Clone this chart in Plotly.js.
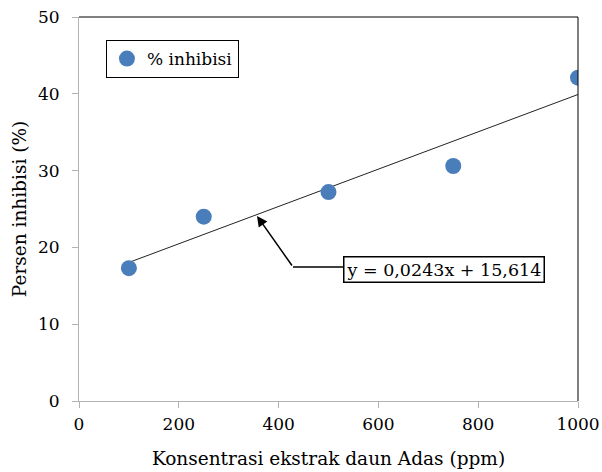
<!DOCTYPE html>
<html>
<head>
<meta charset="utf-8">
<script src="https://cdn.plot.ly/plotly-3.0.1.min.js"></script>
<style>html,body{margin:0;padding:0;background:#fff;}#chart{width:602px;height:472px;}</style>
</head>
<body>
<div id="chart"></div>
<script>
const concentration = [100, 250, 500, 750, 1000];
const inhibition = [17.3, 24.0, 27.2, 30.6, 42.1];
const trendX = [100, 1000];
const trendY = [18.04, 39.91];
const xTicks = [0, 200, 400, 600, 800, 1000];
const yTicks = [0, 10, 20, 30, 40, 50];
const equationText = 'y = 0,0243x + 15,614';
const seriesName = '% inhibisi';

const FONT = 'DejaVu Serif, serif';
const GRAY = '#b3b3b3';

const data = [
  {
    x: trendX, y: trendY, type: 'scatter', mode: 'lines',
    line: {color: '#222', width: 1}, showlegend: false, hoverinfo: 'skip'
  },
  {
    x: concentration, y: inhibition, type: 'scatter', mode: 'markers',
    name: seriesName,
    marker: {color: '#4a7ebb', size: 16}
  }
];

const layout = {
  width: 602, height: 472,
  margin: {l: 79, r: 24, t: 17, b: 71},
  paper_bgcolor: '#fff', plot_bgcolor: '#fff',
  font: {family: FONT, size: 17, color: '#000'},
  showlegend: true,
  legend: {
    x: 0.054, y: 0.94, xanchor: 'left', yanchor: 'top',
    bordercolor: '#000', borderwidth: 1, bgcolor: '#fff',
    font: {family: FONT, size: 17, color: '#000'},
    itemwidth: 30
  },
  xaxis: {
    range: [0, 1000], tickvals: xTicks, ticktext: xTicks.map(String),
    showgrid: false, zeroline: false,
    showline: true, linecolor: GRAY, linewidth: 1,
    ticks: 'outside', ticklen: 6, tickcolor: GRAY,
    ticklabelstandoff: 2,
    tickfont: {family: FONT, size: 17, color: '#000'},
    title: {text: 'Konsentrasi ekstrak daun Adas (ppm)', font: {family: FONT, size: 18.5, color: '#000'}, standoff: 18}
  },
  yaxis: {
    range: [0, 50], tickvals: yTicks, ticktext: yTicks.map(String),
    showgrid: false, zeroline: false,
    showline: true, linecolor: GRAY, linewidth: 1,
    ticks: 'outside', ticklen: 6, tickcolor: GRAY,
    ticklabelstandoff: 9,
    tickfont: {family: FONT, size: 17, color: '#000'},
    title: {text: 'Persen inhibisi (%)', font: {family: FONT, size: 18.5, color: '#000'}, standoff: 6}
  },
  shapes: [
    {type: 'line', xref: 'paper', yref: 'paper', x0: 0, x1: 1, y0: 1, y1: 1, line: {color: '#000', width: 1}},
    {type: 'line', xref: 'paper', yref: 'paper', x0: 1, x1: 1, y0: 0, y1: 1, line: {color: '#000', width: 1}},
    {type: 'line', xref: 'x', yref: 'y', x0: 428.9, x1: 529, y0: 17.45, y1: 17.45, line: {color: '#000', width: 1.5}}
  ],
  annotations: [
    {
      x: 356.7, y: 24.1, xref: 'x', yref: 'y', text: '',
      showarrow: true, axref: 'x', ayref: 'y', ax: 428.9, ay: 17.45,
      arrowhead: 2, arrowsize: 1.4, arrowwidth: 1.5, arrowcolor: '#000'
    },
    {
      x: 529, y: 17.1, xref: 'x', yref: 'y', xanchor: 'left', yanchor: 'middle',
      text: equationText, showarrow: false,
      font: {family: FONT, size: 17.5, color: '#000'},
      bgcolor: '#fff', bordercolor: '#000', borderwidth: 1.5, borderpad: 2
    }
  ]
};

Plotly.newPlot('chart', data, layout, {displayModeBar: false, staticPlot: true});
</script>
</body>
</html>
